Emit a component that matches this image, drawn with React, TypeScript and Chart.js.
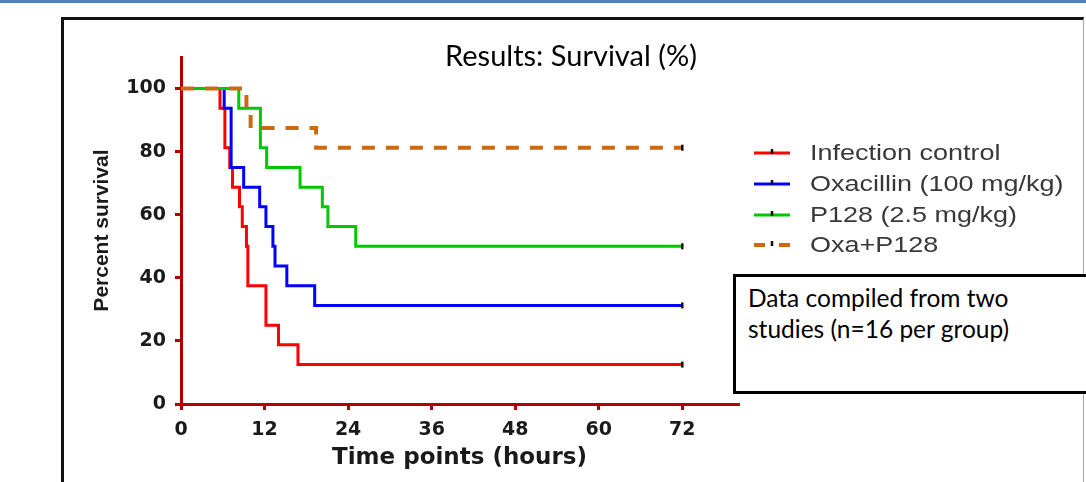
import React, { useEffect, useRef } from "react";
import { Chart, registerables } from "chart.js";

Chart.register(...registerables);

// ---- data ----
const seriesLabels = ["Infection control", "Oxacillin (100 mg/kg)", "P128 (2.5 mg/kg)", "Oxa+P128"];

const controlTimes = [0, 5.6, 6.3, 7.0, 7.4, 8.4, 8.8, 9.4, 9.6, 12.2, 14.0, 16.8, 72];
const controlSurvival = [100, 93.75, 81.25, 75, 68.75, 62.5, 56.25, 50, 37.5, 25, 18.75, 12.5, 12.5];

const oxaTimes = [0, 6.2, 7.2, 9.0, 11.3, 12.2, 13.2, 13.5, 15.2, 19.2, 72];
const oxaSurvival = [100, 93.75, 75, 68.75, 62.5, 56.25, 50, 43.75, 37.5, 31.25, 31.25];

const p128Times = [0, 8.3, 11.4, 12.3, 17.1, 20.3, 21.1, 25.1, 72];
const p128Survival = [100, 93.75, 81.25, 75, 68.75, 62.5, 56.25, 50, 50];

const comboTimes = [0, 9.4, 10.0, 19.4, 72];
const comboSurvival = [100, 93.75, 87.5, 81.25, 81.25];

const xTickValues = [0, 12, 24, 36, 48, 60, 72];
const yTickValues = [0, 20, 40, 60, 80, 100];

const seriesColors = ["#ff0000", "#0000ff", "#00c800", "#cc6a14"];

const toPoints = (xs: number[], ys: number[]) => xs.map((x, i) => ({ x, y: ys[i] }));
const lastOnly = (n: number, r: number) => Array.from({ length: n }, (_, i) => (i === n - 1 ? r : 0));

const AXIS_RED = "#b20000";

const legendPlugin = {
  id: "customLegend",
  afterDraw(chart: any) {
    const ctx = chart.ctx;
    const x0 = chart.chartArea.right + 16;
    const rowY = [153, 184, 215, 245];
    ctx.save();
    chart.data.datasets.forEach((ds: any, i: number) => {
      const y = rowY[i];
      ctx.strokeStyle = ds.borderColor;
      ctx.lineWidth = ds.borderDash ? 4 : 3;
      ctx.setLineDash([]);
      ctx.beginPath();
      if (ds.borderDash) {
        ctx.moveTo(x0, y);
        ctx.lineTo(x0 + 11, y);
        ctx.moveTo(x0 + 25, y);
        ctx.lineTo(x0 + 36, y);
      } else {
        ctx.moveTo(x0, y);
        ctx.lineTo(x0 + 36, y);
      }
      ctx.stroke();
      ctx.strokeStyle = "#111";
      ctx.lineWidth = 2.5;
      ctx.beginPath();
      ctx.moveTo(x0 + 18, y - 4);
      ctx.lineTo(x0 + 18, y + 1);
      ctx.stroke();
      ctx.save();
      ctx.translate(x0 + 56, y + 1);
      ctx.scale(1.2, 1);
      ctx.fillStyle = "#383838";
      ctx.font = '22.5px "Liberation Sans"';
      ctx.textBaseline = "middle";
      ctx.textAlign = "left";
      ctx.fillText(ds.label, 0, 0);
      ctx.restore();
    });
    ctx.restore();
  },
};

export default function App() {
  const canvasRef = useRef<HTMLCanvasElement | null>(null);

  useEffect(() => {
    const canvas = canvasRef.current;
    if (!canvas) return;
    const series = [
      toPoints(controlTimes, controlSurvival),
      toPoints(oxaTimes, oxaSurvival),
      toPoints(p128Times, p128Survival),
      toPoints(comboTimes, comboSurvival),
    ];
    const chart = new Chart(canvas, {
      type: "line",
      data: {
        datasets: series.map((pts, i) => ({
          label: seriesLabels[i],
          data: pts,
          borderColor: seriesColors[i],
          borderWidth: i === 3 ? 4 : 3,
          borderDash: i === 3 ? [13, 11] : undefined,
          stepped: "before" as const,
          fill: false,
          pointStyle: "line" as const,
          rotation: 90,
          pointRadius: lastOnly(pts.length, 3),
          pointBorderColor: "#111",
          pointBackgroundColor: "#111",
          pointBorderWidth: 2.5,
          order: 3 - i,
        })),
      },
      options: {
        animation: false,
        responsive: false,
        events: [],
        layout: { padding: { left: 63, right: 348, top: 57, bottom: 0 } },
        plugins: {
          legend: { display: false },
          title: { display: false },
          tooltip: { enabled: false },
        },
        scales: {
          x: {
            type: "linear",
            min: 0,
            max: 80,
            afterBuildTicks: (scale: any) => {
              scale.ticks = xTickValues.map((v) => ({ value: v }));
            },
            afterFit: (scale: any) => {
              scale.height = 78;
            },
            ticks: {
              autoSkip: false,
              maxRotation: 0,
              padding: 9,
              color: "#1a1a1a",
              font: { family: '"DejaVu Sans"', size: 19, weight: "bold" },
            },
            grid: {
              drawOnChartArea: false,
              drawTicks: true,
              tickLength: 6,
              color: AXIS_RED,
              lineWidth: 3,
            },
            border: { display: true, color: AXIS_RED, width: 3 },
            title: {
              display: true,
              text: "Time points (hours)",
              color: "#1a1a1a",
              font: { family: '"DejaVu Sans"', size: 23, weight: "bold" },
              padding: { top: 0, bottom: 10 },
            },
          },
          y: {
            type: "linear",
            min: 0,
            max: 110,
            afterBuildTicks: (scale: any) => {
              scale.ticks = yTickValues.map((v) => ({ value: v }));
            },
            afterFit: (scale: any) => {
              scale.width = 118;
            },
            ticks: {
              padding: 9,
              color: "#1a1a1a",
              font: { family: '"DejaVu Sans"', size: 19, weight: "bold" },
            },
            grid: {
              drawOnChartArea: false,
              drawTicks: true,
              tickLength: 6,
              color: AXIS_RED,
              lineWidth: 3,
            },
            border: { display: true, color: AXIS_RED, width: 3 },
            title: {
              display: true,
              text: "Percent survival",
              color: "#1a1a1a",
              font: { family: '"Liberation Sans"', size: 21, weight: "bold" },
              padding: { top: 27, bottom: 0 },
            },
          },
        },
      },
      plugins: [legendPlugin],
    } as any);
    return () => chart.destroy();
  }, []);

  return (
    <div
      style={{
        position: "absolute",
        left: 0,
        top: 0,
        width: 1086,
        height: 482,
        overflow: "hidden",
        background: "#fff",
      }}
    >
      <div style={{ position: "absolute", left: 0, top: 0, width: 1086, height: 3, background: "#4f81bd" }} />
      <div
        style={{
          position: "absolute",
          left: 61,
          top: 17,
          width: 1023,
          height: 500,
          boxSizing: "border-box",
          borderTop: "3px solid #111",
          borderLeft: "3px solid #111",
          borderRight: "1px solid #aaa",
        }}
      />
      <canvas ref={canvasRef} width={1086} height={482} style={{ position: "absolute", left: 0, top: 0 }} />
      <div
        style={{
          position: "absolute",
          left: 371,
          top: 38,
          width: 400,
          textAlign: "center",
          fontFamily: "Lato",
          fontSize: 29,
          lineHeight: "34px",
          color: "#000",
          whiteSpace: "nowrap",
        }}
      >
        Results: Survival (%)
      </div>
      <div
        style={{
          position: "absolute",
          left: 733,
          top: 274,
          width: 420,
          height: 120,
          boxSizing: "border-box",
          border: "3px solid #000",
          background: "#fff",
          paddingLeft: 12,
          paddingTop: 5,
          fontFamily: "Lato",
          fontSize: 24.5,
          lineHeight: "31px",
          color: "#000",
        }}
      >
        <div>Data compiled from two</div>
        <div>studies (n=16 per group)</div>
      </div>
    </div>
  );
}
